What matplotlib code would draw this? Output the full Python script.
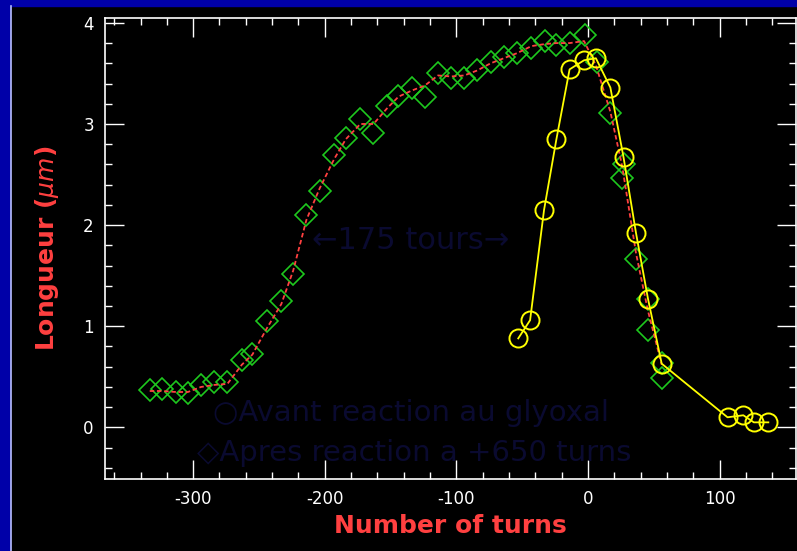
import numpy as np
import matplotlib.pyplot as plt

# Avant reaction : losanges verts (nombre de tours, longueur en microns)
avant_x = [-333, -324, -313, -304, -294, -284, -274, -263, -255, -244,
           -233, -224, -214, -204, -193, -184, -173, -163, -153, -144,
           -134, -124, -114, -104, -94, -84, -74, -64, -54, -43,
           -33, -24, -14, -2, 7, 17, 27, 26, 36.5, 45.6,
           45.6, 56, 56]
avant_y = [0.37, 0.38, 0.35, 0.34, 0.42, 0.45, 0.45, 0.67, 0.73, 1.05,
           1.25, 1.52, 2.10, 2.34, 2.69, 2.86, 3.05, 2.91, 3.18, 3.28,
           3.36, 3.27, 3.50, 3.45, 3.45, 3.53, 3.61, 3.66, 3.70, 3.75,
           3.82, 3.78, 3.80, 3.88, 3.61, 3.11, 2.60, 2.47, 1.67, 1.27,
           0.96, 0.64, 0.49]

# Courbe rouge lissee
fit_x = [-333, -324, -313, -304, -294, -284, -274, -263, -255, -244,
         -233, -224, -214, -204, -193, -184, -173, -163, -153, -144,
         -134, -124, -114, -104, -94, -84, -74, -64, -54, -43,
         -33, -24, -14, -3, 6, 17, 26, 36.5, 45.6, 56]
fit_y = [0.36, 0.36, 0.35, 0.35, 0.40, 0.42, 0.43, 0.62, 0.72, 0.98,
         1.22, 1.55, 2.05, 2.36, 2.65, 2.85, 3.00, 3.00, 3.15, 3.27,
         3.33, 3.38, 3.48, 3.47, 3.48, 3.53, 3.60, 3.65, 3.70, 3.77,
         3.79, 3.80, 3.80, 3.82, 3.58, 3.12, 2.58, 1.72, 1.15, 0.62]

# Apres reaction : cercles jaunes
apres_x = [-53, -44, -33.4, -24, -14, -3, 6, 17, 27, 36.5,
           45.6, 56, 106, 118, 126, 137]
apres_y = [0.88, 1.06, 2.15, 2.85, 3.54, 3.63, 3.65, 3.36, 2.67, 1.92,
           1.27, 0.63, 0.10, 0.12, 0.05, 0.05]

xticks = [-300, -200, -100, 0, 100]
yticks = [0, 1, 2, 3, 4]

red = '#ff4040'
green = '#1ec81e'
yellow = '#ffff00'
navy = '#0a0a30'

fig = plt.figure(figsize=(7.97, 5.51), dpi=100)
fig.patch.set_facecolor('black')

# Bandes bleues en haut et a gauche
fig.add_artist(plt.Rectangle((0, 0.989), 1, 0.011, transform=fig.transFigure,
                             color='#0000a8', zorder=0))
fig.add_artist(plt.Rectangle((0, 0), 0.0125, 1, transform=fig.transFigure,
                             color='#0000a8', zorder=0))
fig.add_artist(plt.Line2D([0.0138, 0.0138], [0, 0.989], transform=fig.transFigure,
                          color='#b8c0ff', lw=1.2))

ax = fig.add_axes([0.1317, 0.1307, 0.8670, 0.8370])
ax.set_facecolor('black')

ax.plot(fit_x, fit_y, color=red, ls=(0, (2.5, 1.5)), lw=1.3, zorder=3)
ax.plot(avant_x, avant_y, ls='none', marker='D', ms=11, mfc='none',
        mec=green, mew=1.2, zorder=2)
ax.plot(apres_x, apres_y, color=yellow, lw=1.3, marker='o', ms=13,
        mfc='none', mec=yellow, mew=1.4, zorder=4)

# Textes presque invisibles (bleu nuit)
ax.text(-210, 1.85, '\u2190175 tours\u2192', color=navy, fontsize=22,
        va='center', ha='left')
ax.text(-285, 0.14, '\u25cbAvant reaction au glyoxal', color=navy,
        fontsize=21, va='center', ha='left')
ax.text(-297, -0.25, '\u25c7Apres reaction a +650 turns', color=navy,
        fontsize=21, va='center', ha='left')

ax.set_xlim(-367, 158)
ax.set_ylim(-0.51, 4.05)
ax.set_xticks(xticks)
ax.set_xticklabels([str(v) for v in xticks])
ax.set_yticks(yticks)
ax.set_xticks(np.arange(-360, 160, 20), minor=True)
ax.set_yticks(np.arange(-0.4, 4.01, 0.2), minor=True)

ax.tick_params(which='both', direction='in', top=True, right=True,
               colors='white', labelsize=12, pad=8)
ax.tick_params(which='major', length=14, width=1)
ax.tick_params(which='minor', length=5, width=1)
for s in ax.spines.values():
    s.set_color('white')
    s.set_linewidth(1.2)

ax.set_xlabel('Number of turns', color=red, fontsize=18, fontweight='bold',
              labelpad=4)
ax.set_ylabel('Longueur ($\\mu m$)', color=red, fontsize=18,
              fontweight='bold', labelpad=16)

fig.savefig('out.png', dpi=100, facecolor=fig.get_facecolor())
